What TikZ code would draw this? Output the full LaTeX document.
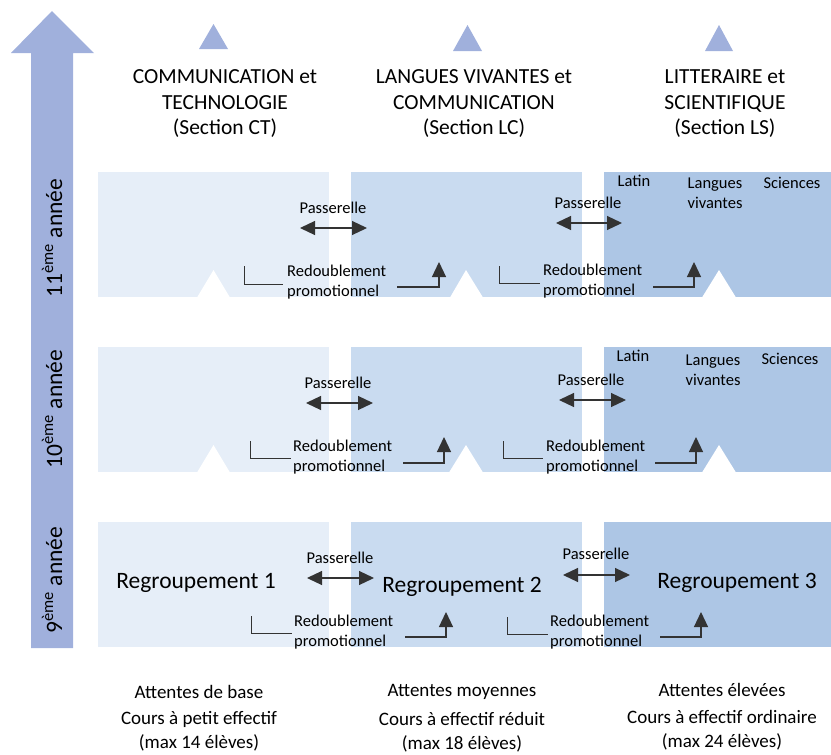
\documentclass[tikz,border=0pt]{standalone}
\usepackage{fontspec}
\setmainfont{Carlito}
\usetikzlibrary{arrows.meta}
\definecolor{ctblue}{HTML}{E6EEF8}
\definecolor{lcblue}{HTML}{C9DBF0}
\definecolor{lsblue}{HTML}{ADC6E5}
\definecolor{arrowblue}{HTML}{A0B0DC}
\definecolor{linegray}{HTML}{333333}
\begin{document}
\begin{tikzpicture}[x=1pt, y=-1pt,
    lbl/.style={font=\fontsize{16.5}{20}\selectfont, inner sep=0pt},
    redoub/.style={lbl, anchor=west, align=left},
    head/.style={font=\fontsize{21.5}{25.5}\selectfont, align=center, inner sep=0pt},
    regroup/.style={font=\fontsize{23.5}{28}\selectfont, inner sep=0pt},
    year/.style={font=\fontsize{23.5}{28}\selectfont, rotate=90, inner sep=0pt},
    attente/.style={font=\fontsize{19}{24}\selectfont, align=center, inner sep=0pt},
    pass/.style={linegray, line width=1.2pt, {Triangle[length=15pt,width=14pt]}-{Triangle[length=15pt,width=14pt]}},
    promo/.style={linegray, line width=1.2pt, -{Triangle[length=15pt,width=14pt]}},
    bracket/.style={linegray, line width=0.8pt}]
            \useasboundingbox (0,0) rectangle (831,755);

            % big arrow and section triangles
            \fill[arrowblue] (31,648) -- (31,53) -- (11,53) -- (52,11) -- (94,53) -- (73,53) -- (73,648) -- cycle;
            \fill[arrowblue] (199,49) -- (213.5,24) -- (228,49) -- cycle;
            \fill[arrowblue] (453,51) -- (467.5,25) -- (482,51) -- cycle;
            \fill[arrowblue] (705,51) -- (719,25) -- (733,51) -- cycle;

            \node[head] (ct) at (225,104) {COMMUNICATION et\\TECHNOLOGIE\\(Section CT)};
            \node[head] (lc) at (474,104) {LANGUES VIVANTES et\\COMMUNICATION\\(Section LC)};
            \node[head] (ls) at (725,104) {LITTERAIRE et\\SCIENTIFIQUE\\(Section LS)};

            % blocks
            \fill[ctblue] (98,172) rectangle (329,297);
            \fill[lcblue] (351,172) rectangle (582,297);
            \fill[lsblue] (604,172) rectangle (831,297);
            \fill[ctblue] (98,347) rectangle (329,472);
            \fill[lcblue] (351,347) rectangle (582,472);
            \fill[lsblue] (604,347) rectangle (831,472);
            \fill[ctblue] (98,522) rectangle (329,647);
            \fill[lcblue] (351,522) rectangle (582,647);
            \fill[lsblue] (604,522) rectangle (831,647);

            \fill[white] (197,297.5) -- (213.5,270) -- (230,297.5) -- cycle;
            \fill[white] (450,297.5) -- (466,270) -- (483,297.5) -- cycle;
            \fill[white] (702,297.5) -- (719,270) -- (736,297.5) -- cycle;
            \fill[white] (197,472.5) -- (213.5,445) -- (230,472.5) -- cycle;
            \fill[white] (449,472.5) -- (466,445) -- (483,472.5) -- cycle;
            \fill[white] (702,472.5) -- (719,445) -- (736,472.5) -- cycle;

            \node[year] (y11) at (52,238) {11\textsuperscript{ème} année};
            \node[year] (y10) at (52,409) {10\textsuperscript{ème} année};
            \node[year] (y9) at (52,580) {9\textsuperscript{ème} année};

            % 11eme
            \node[lbl] (pass11a) at (333,208) {Passerelle};
            \draw[pass] (300,228) -- (367,228);
            \node[lbl] (pass11b) at (588,203) {Passerelle};
            \draw[pass] (556,223) -- (622,223);
            \draw[bracket] (244,266) -- (244,284) -- (283,284);
            \node[redoub] (red11a) at (287,282) {Redoublement\\promotionnel};
            \draw[promo] (397,287) -- (439,287) -- (439,262);
            \draw[bracket] (499,266) -- (499,283) -- (540,283);
            \node[redoub] (red11b) at (543,281) {Redoublement\\promotionnel};
            \draw[promo] (653,287) -- (694,287) -- (694,262);
            \node[lbl] (lat11) at (634,181) {Latin};
            \node[lbl, align=center] (lv11) at (715,193) {Langues\\vivantes};
            \node[lbl] (sci11) at (792,183) {Sciences};

            % 10eme
            \node[lbl] (pass10a) at (338,383) {Passerelle};
            \draw[pass] (306,403) -- (373,403);
            \node[lbl] (pass10b) at (591,380) {Passerelle};
            \draw[pass] (559,400) -- (626,400);
            \draw[bracket] (250,441) -- (250,458) -- (291,458);
            \node[redoub] (red10a) at (293,457) {Redoublement\\promotionnel};
            \draw[promo] (403,463) -- (444,463) -- (444,437);
            \draw[bracket] (503,441) -- (503,458) -- (543,458);
            \node[redoub] (red10b) at (546,457) {Redoublement\\promotionnel};
            \draw[promo] (655,463) -- (696,463) -- (696,437);
            \node[lbl] (lat10) at (633,356) {Latin};
            \node[lbl, align=center] (lv10) at (713,370) {Langues\\vivantes};
            \node[lbl] (sci10) at (790,359) {Sciences};

            % 9eme
            \node[regroup] (rg1) at (196,583) {Regroupement 1};
            \node[regroup] (rg2) at (462,587) {Regroupement 2};
            \node[regroup] (rg3) at (737,583) {Regroupement 3};
            \node[lbl] (pass9a) at (340,558) {Passerelle};
            \draw[pass] (307,578) -- (374,578);
            \node[lbl] (pass9b) at (596,554) {Passerelle};
            \draw[pass] (563,575) -- (630,575);
            \draw[bracket] (251,616) -- (251,633) -- (292,633);
            \node[redoub] (red9a) at (294,632) {Redoublement\\promotionnel};
            \draw[promo] (405,637) -- (446,637) -- (446,612);
            \draw[bracket] (507,617) -- (507,634) -- (548,634);
            \node[redoub] (red9b) at (550,632) {Redoublement\\promotionnel};
            \draw[promo] (660,637) -- (701,637) -- (701,612);

            % attentes
            \node[attente] (att1) at (199,692) {Attentes de base};
            \node[attente] (crs1) at (199,731) {Cours à petit effectif\\(max 14 élèves)};
            \node[attente] (att2) at (462,692) {Attentes moyennes};
            \node[attente] (crs2) at (462,732) {Cours à effectif réduit\\(max 18 élèves)};
            \node[attente] (att3) at (722,690) {Attentes élevées};
            \node[attente] (crs3) at (722,730) {Cours à effectif ordinaire\\(max 24 élèves)};
        \end{tikzpicture}
\end{document}
